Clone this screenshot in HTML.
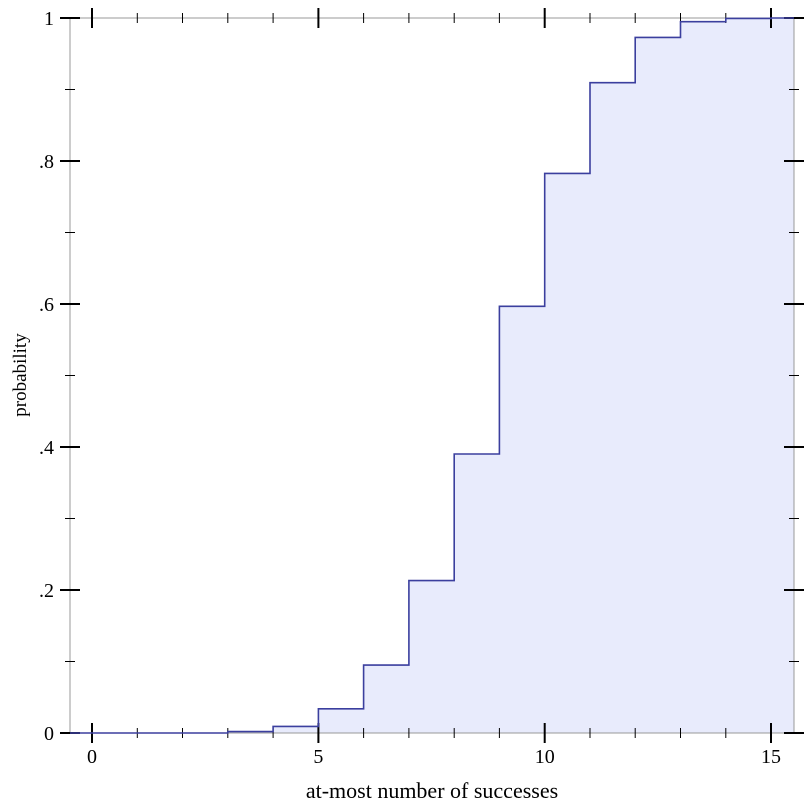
<!DOCTYPE html>
<html><head><style>body{margin:0;background:#fff}svg{display:block}</style></head><body>
<svg width="812" height="812" xmlns="http://www.w3.org/2000/svg" font-family="Liberation Serif, serif" font-size="20">
<polygon fill="#e8ebfc" points="70,733 227.8,733 227.8,731.6 273.1,731.6 273.1,726.4 318.4,726.4 318.4,708.8 363.6,708.8 363.6,665.1 408.9,665.1 408.9,580.6 454.2,580.6 454.2,454 499.4,454 499.4,306.3 544.7,306.3 544.7,173.4 590,173.4 590,82.7 635.2,82.7 635.2,37.4 680.5,37.4 680.5,21.7 725.8,21.7 725.8,18.4 771,18.4 771,18 794,18 794,733"/>
<g stroke="#999" stroke-width="1">
<line x1="70" y1="18" x2="70" y2="733"/><line x1="794" y1="18" x2="794" y2="733"/>
<line x1="70" y1="18" x2="794" y2="18"/><line x1="70" y1="733" x2="794" y2="733"/>
</g>
<g stroke="#000" stroke-width="1">
<path d="M137.3,728v10M182.5,728v10M227.8,728v10M273.1,728v10M363.6,728v10M408.9,728v10M454.2,728v10M499.4,728v10M590,728v10M635.2,728v10M680.5,728v10M725.8,728v10
M137.3,13v10M182.5,13v10M227.8,13v10M273.1,13v10M363.6,13v10M408.9,13v10M454.2,13v10M499.4,13v10M590,13v10M635.2,13v10M680.5,13v10M725.8,13v10"/>
<path stroke-width="2" d="M92,723v20M318.4,723v20M544.7,723v20M771,723v20M92,8v20M318.4,8v20M544.7,8v20M771,8v20"/>
<path d="M65,661.5h10M65,518.5h10M65,375.5h10M65,232.5h10M65,89.5h10M789,661.5h10M789,518.5h10M789,375.5h10M789,232.5h10M789,89.5h10"/>
<path stroke-width="2" d="M60,733h20M60,590h20M60,447h20M60,304h20M60,161h20M60,18h20M784,733h20M784,590h20M784,447h20M784,304h20M784,161h20M784,18h20"/>
</g>
<polyline fill="none" stroke="#3b3f9e" stroke-width="1.6" points="70,733 227.8,733 227.8,731.6 273.1,731.6 273.1,726.4 318.4,726.4 318.4,708.8 363.6,708.8 363.6,665.1 408.9,665.1 408.9,580.6 454.2,580.6 454.2,454 499.4,454 499.4,306.3 544.7,306.3 544.7,173.4 590,173.4 590,82.7 635.2,82.7 635.2,37.4 680.5,37.4 680.5,21.7 725.8,21.7 725.8,18.4 771,18.4 771,18 794,18"/>
<g text-anchor="middle">
<text x="92" y="763">0</text><text x="318.4" y="763">5</text><text x="544.7" y="763">10</text><text x="771" y="763">15</text>
<text x="432" y="798" font-size="22">at-most number of successes</text>
</g>
<g text-anchor="end">
<text x="54" y="740">0</text><text x="54" y="597">.2</text><text x="54" y="454">.4</text><text x="54" y="311">.6</text><text x="54" y="168">.8</text><text x="54" y="25">1</text>
</g>
<text transform="translate(26,375) rotate(-90)" text-anchor="middle" font-size="19">probability</text>
</svg>
</body></html>
